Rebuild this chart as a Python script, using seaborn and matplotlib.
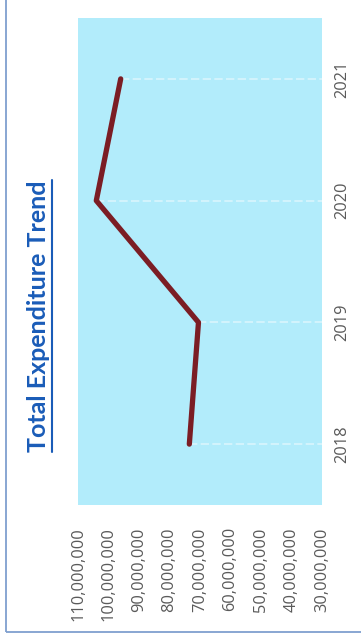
import matplotlib.pyplot as plt
import matplotlib.patches as mpatches
import matplotlib.ticker as mticker
import seaborn as sns
import numpy as np

years = ['2018', '2019', '2020', '2021']
expenditure = [73500000, 70500000, 104000000, 96000000]
value_ticks = [30000000, 40000000, 50000000, 60000000, 70000000,
               80000000, 90000000, 100000000, 110000000]
title = 'Total Expenditure Trend'

sns.set_theme(style='white')
plt.rcParams['font.family'] = ['Open Sans', 'DejaVu Sans']

fig = plt.figure(figsize=(3.61, 6.41), dpi=100)
ax = fig.add_axes([78 / 361, 136 / 641, 244 / 361, 487 / 641])
ax.set_facecolor('#b2ecfb')

pos = np.arange(len(years))

# faint drop lines from each point to the axis
ax.hlines(pos, expenditure, min(value_ticks), color='white', alpha=0.5, lw=1.2,
          linestyles=(0, (5, 2)), zorder=1)

sns.lineplot(x=expenditure, y=pos, orient='y', sort=False, ax=ax,
             color='#7b1d24', lw=3.8, zorder=3)

ax.set_xlim(max(value_ticks), min(value_ticks))
ax.set_ylim(-0.5, len(years) - 0.5)
ax.set_xticks(value_ticks)
ax.xaxis.set_major_formatter(mticker.FuncFormatter(lambda v, p: f'{int(v):,}'))
ax.set_yticks(pos)
ax.set_yticklabels(years)
ax.yaxis.tick_right()

ax.tick_params(axis='x', length=0, pad=16, labelsize=11.8, labelcolor='#5a5a5a',
               labelrotation=90)
ax.tick_params(axis='y', length=0, pad=9, labelsize=11.8, labelcolor='#5a5a5a')
for lab in ax.get_yticklabels():
    lab.set_rotation(90)
    lab.set_va('center')
for lab in ax.get_xticklabels():
    lab.set_va('top')

for s in ax.spines.values():
    s.set_visible(False)
ax.set_xlabel('')
ax.set_ylabel('')

# title, rotated like the rest of the chart
t = fig.text(39 / 361, 325 / 641, title, rotation=90, ha='center', va='center',
             fontsize=18, fontweight='bold', color='#1a5cb8', family=['Lato', 'DejaVu Sans'])
fig.canvas.draw()
bb = t.get_window_extent(fig.canvas.get_renderer()).transformed(fig.transFigure.inverted())
fig.add_artist(plt.Line2D([bb.x1 + 0.004, bb.x1 + 0.004], [bb.y0, bb.y1],
                          transform=fig.transFigure, color='#1a5cb8', lw=1.5))

# outer chart frame
fig.add_artist(mpatches.Rectangle((6 / 361, 9 / 641), 1.0, 1.0, transform=fig.transFigure,
                                  fill=False, edgecolor='#7f9fcf', lw=1.3))

fig.savefig('out.png', dpi=100)
